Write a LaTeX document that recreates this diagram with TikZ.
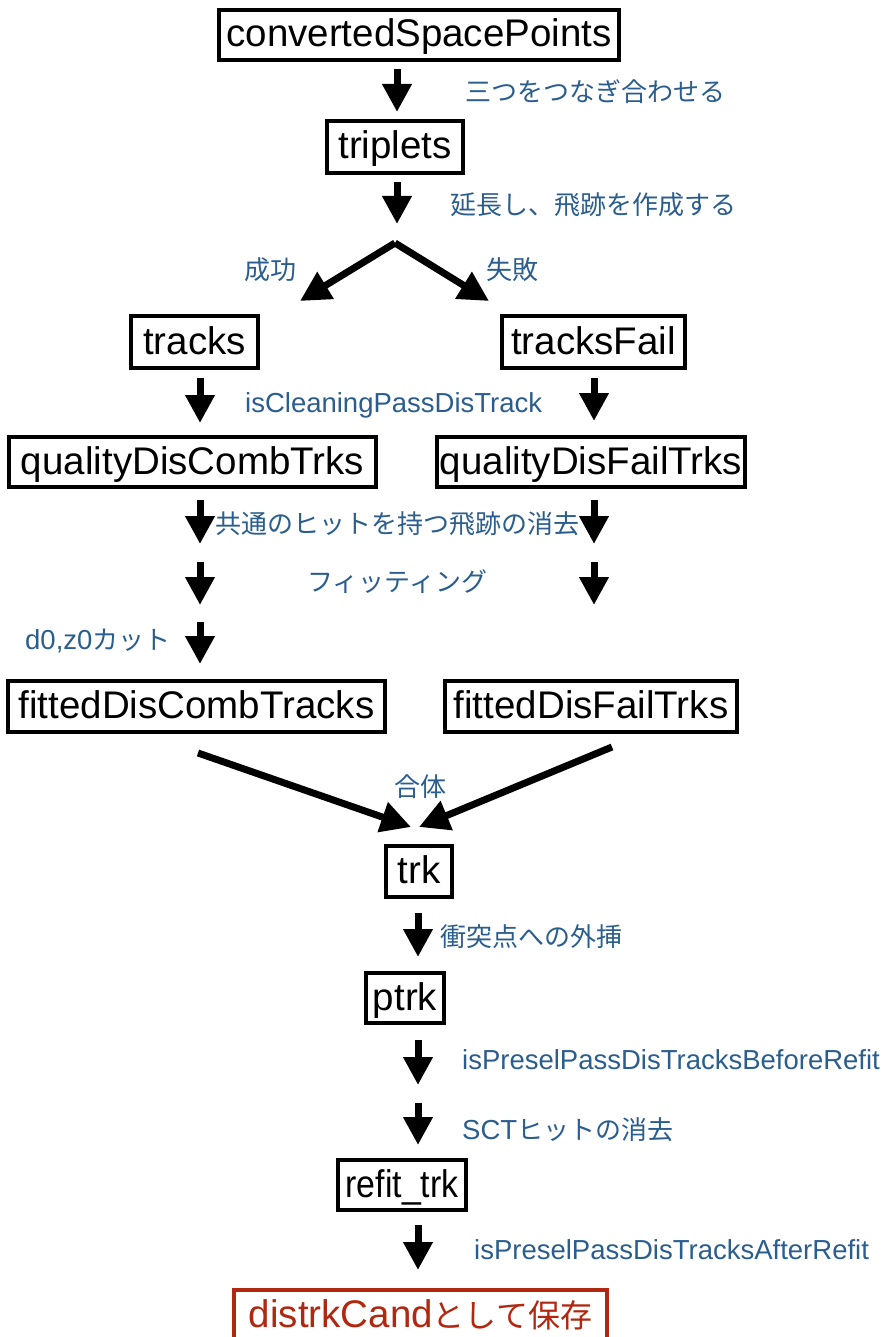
\documentclass[tikz,border=0pt]{standalone}
\usepackage{fontspec}
\usepackage{graphicx}
\setmainfont{Liberation Sans}
\newfontfamily\jp{Noto Sans CJK JP}
\usetikzlibrary{arrows.meta}
\definecolor{lblue}{HTML}{2B5E8E}
\definecolor{dred}{HTML}{B02810}
\tikzset{
  box/.style={draw, line width=3.6pt, inner sep=0pt, text height=30pt, text depth=6pt,
    font=\fontsize{38.5}{40}\selectfont},
  redbox/.style={box, draw=dred, text=dred},
  lbl/.style={text=lblue, inner sep=0pt, font=\fontsize{27.5}{30}\selectfont},
  jlbl/.style={text=lblue, inner sep=0pt, font=\jp\fontsize{26}{28}\selectfont},
  arr/.style={line width=7pt, -{Triangle[width=28pt,length=28pt]}},
  darr/.style={line width=7pt, -{Triangle[width=30pt,length=30pt]}},
}
\begin{document}
\begin{tikzpicture}[x=1pt, y=-1pt]
\useasboundingbox (0,0) rectangle (895,1337);
\fill[white] (0,0) rectangle (895,1337);
\clip (0,0) rectangle (895,1337);

% data products
\node[box, minimum width=400pt, minimum height=50pt] (csp) at (419,35) {convertedSpacePoints};
\node[box, minimum width=136pt, minimum height=52pt] (trip) at (395,147) {triplets};
\node[box, minimum width=127pt, minimum height=52pt] (tracks) at (194.5,342) {tracks};
\node[box, minimum width=183pt, minimum height=52pt] (tfail) at (593.5,342) {tracksFail};
\node[box, minimum width=367pt, minimum height=50pt] (qdc) at (192.5,462) {qualityDisCombTrks};
\node[box, minimum width=308pt, minimum height=50pt] (qdf) at (591,462) {qualityDisFailTrks};
\node[box, minimum width=377pt, minimum height=51pt] (fdc) at (196.5,706.5) {fittedDisCombTracks};
\node[box, minimum width=292pt, minimum height=51pt] (fdf) at (591,706.5) {fittedDisFailTrks};
\node[box, minimum width=66pt, minimum height=51pt] (trk) at (419,871.5) {trk};
\node[box, minimum width=78pt, minimum height=50pt] (ptrk) at (405,998) {ptrk};
\node[box, minimum width=128pt, minimum height=50pt] (refit) at (402,1185) {\scalebox{0.88}[1]{refit\_trk}};
\node[redbox, minimum width=373pt, minimum height=50pt] (cand) at (420.5,1315)
  {distrkCand{\jp\fontsize{32}{34}\selectfont として保存}};

% arrow end points
\coordinate (a1s) at (397,69);   \coordinate (a1e) at (397,112);
\coordinate (a2s) at (397,182);  \coordinate (a2e) at (397,224);
\coordinate (apex) at (395,243);
\coordinate (sl) at (300,301);   \coordinate (sr) at (489,301);
\coordinate (b1s) at (200,378);  \coordinate (b1e) at (200,423);
\coordinate (c1s) at (594,378);  \coordinate (c1e) at (594,421);
\coordinate (b2s) at (200,500);  \coordinate (b2e) at (200,544);
\coordinate (c2s) at (594,500);  \coordinate (c2e) at (594,544);
\coordinate (b3s) at (200,562);  \coordinate (b3e) at (200,605);
\coordinate (c3s) at (594,562);  \coordinate (c3e) at (594,605);
\coordinate (b4s) at (200,622);  \coordinate (b4e) at (200,664);
\coordinate (ml) at (198,753);   \coordinate (mr) at (612,747);
\coordinate (mle) at (411,827);  \coordinate (mre) at (419,827);
\coordinate (d1s) at (418,913);  \coordinate (d1e) at (418,957);
\coordinate (d2s) at (418,1040); \coordinate (d2e) at (418,1085);
\coordinate (d3s) at (418,1103); \coordinate (d3e) at (418,1145);
\coordinate (d4s) at (418,1225); \coordinate (d4e) at (418,1270);

% arrows
\draw[arr] (a1s) -- (a1e);
\draw[arr] (a2s) -- (a2e);
\draw[darr] (apex) -- (sl);
\draw[darr] (apex) -- (sr);
\draw[arr] (b1s) -- (b1e);
\draw[arr] (c1s) -- (c1e);
\draw[arr] (b2s) -- (b2e);
\draw[arr] (c2s) -- (c2e);
\draw[arr] (b3s) -- (b3e);
\draw[arr] (c3s) -- (c3e);
\draw[arr] (b4s) -- (b4e);
\draw[darr] (ml) -- (mle);
\draw[darr] (mr) -- (mre);
\draw[arr] (d1s) -- (d1e);
\draw[arr] (d2s) -- (d2e);
\draw[arr] (d3s) -- (d3e);
\draw[arr] (d4s) -- (d4e);

% step labels
\node[jlbl, anchor=west] (l1) at (465,92) {三つをつなぎ合わせる};
\node[jlbl, anchor=west] (l2) at (450,205) {延長し、飛跡を作成する};
\node[jlbl] (l3) at (270,270) {成功};
\node[jlbl] (l4) at (512,270) {失敗};
\node[lbl, anchor=west] (l5) at (245,405) {isCleaningPassDisTrack};
\node[jlbl, anchor=west] (l6) at (215,524) {共通のヒットを持つ飛跡の消去};
\node[jlbl, anchor=west] (l7) at (307,582) {フィッティング};
\node[lbl, anchor=west] (l8) at (25,641) {d0,z0{\jp\fontsize{26}{28}\selectfont カット}};
\node[jlbl] (l9) at (420,787) {合体};
\node[jlbl, anchor=west] (l10) at (440,937) {衝突点への外挿};
\node[lbl, anchor=west] (l11) at (462,1060) {isPreselPassDisTracksBeforeRefit};
\node[lbl, anchor=west] (l12) at (462,1130) {SCT{\jp\fontsize{26}{28}\selectfont ヒットの消去}};
\node[lbl, anchor=west] (l13) at (474,1250) {isPreselPassDisTracksAfterRefit};
\end{tikzpicture}
\end{document}
